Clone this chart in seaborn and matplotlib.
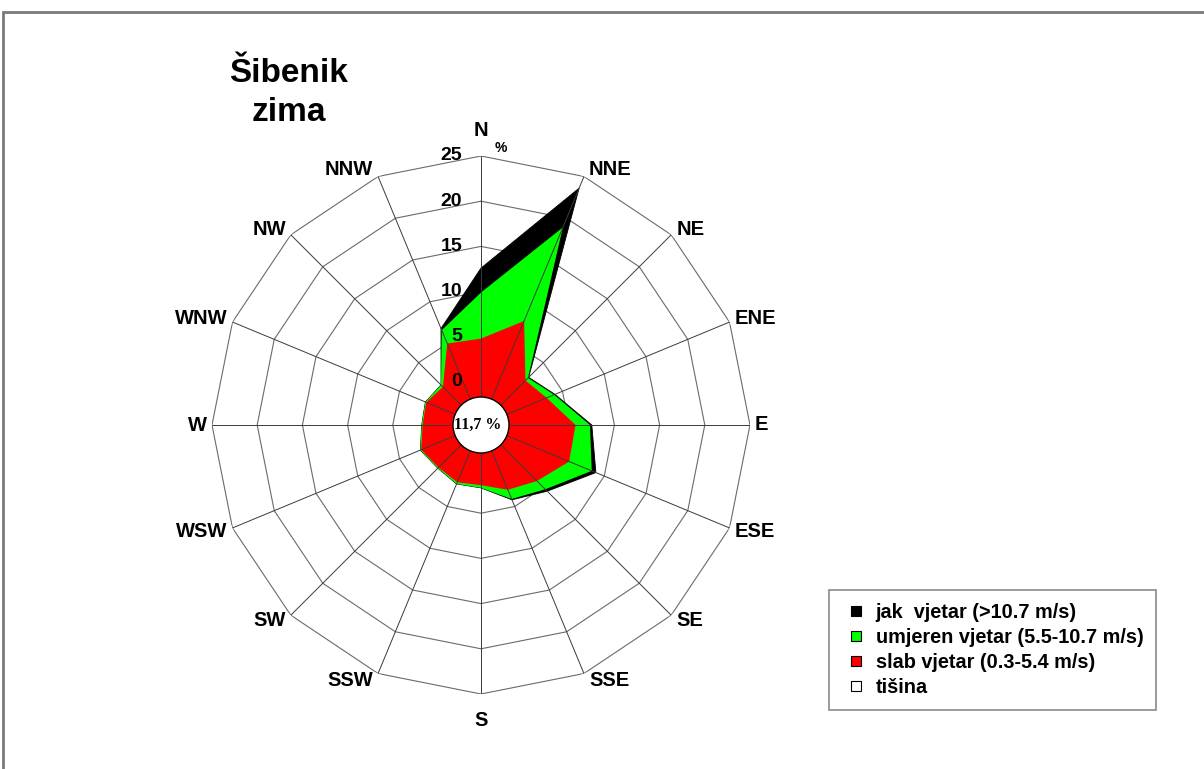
import numpy as np
import matplotlib
matplotlib.use("Agg")
import matplotlib.pyplot as plt
from matplotlib.lines import Line2D
from matplotlib.patches import Circle, Rectangle
import seaborn as sns

sns.set_theme(style="white")
plt.rcParams['font.family'] = ['Liberation Sans', 'DejaVu Sans']
plt.rcParams['text.color'] = 'black'

# Wind rose data, Šibenik, winter (% of observations)
directions = ["N", "NNE", "NE", "ENE", "E", "ESE", "SE", "SSE",
              "S", "SSW", "SW", "WSW", "W", "WNW", "NW", "NNW"]
slab = [4.8, 7.7, 2.2, 3.1, 5.7, 5.8, 4.0, 3.0, 1.9, 2.1, 1.9, 2.4, 1.7, 1.8, 1.2, 5.0]
umjeren = [5.1, 11.2, 0.4, 0.9, 1.6, 2.7, 1.3, 1.1, 0.3, 0.2, 0.1, 0.1, 0.1, 0.1, 0.3, 1.6]
jak = [2.7, 4.7, 0.1, 0.1, 0.2, 0.5, 0.3, 0.1, 0.0, 0.0, 0.0, 0.0, 0.0, 0.0, 0.0, 0.2]
tisina = 11.7
ring_values = [0, 5, 10, 15, 20, 25]
legend_labels = ["jak  vjetar (>10.7 m/s)", "umjeren vjetar (5.5-10.7 m/s)",
                 "slab vjetar (0.3-5.4 m/s)", "tišina"]

# layout
W, H = 1204, 769
CX, CY = 481, 425          # rose centre, px from top-left
R_OUT = 269                # px radius of 25 % ring
R_ZERO = 43                # px radius of 0 % ring
R_CALM = 28                # px radius of calm circle
RMAX = 25
RMIN = -RMAX * R_ZERO / (R_OUT - R_ZERO)

fig = plt.figure(figsize=(W / 100, H / 100), dpi=100)
ax = fig.add_axes([(CX - R_OUT) / W, (H - CY - R_OUT) / H, 2 * R_OUT / W, 2 * R_OUT / H],
                  projection='polar')
ax.set_theta_zero_location('N')
ax.set_theta_direction(-1)
ax.set_ylim(RMIN, RMAX)
ax.grid(False)
ax.set_xticks([])
ax.set_yticks([])
ax.spines['polar'].set_visible(False)
ax.patch.set_alpha(0)

theta = np.deg2rad(np.arange(len(directions)) * 22.5)
theta_c = np.append(theta, theta[0])

def closed(a):
    a = np.asarray(a, dtype=float)
    return np.append(a, a[0])

# polygon rings
for v in ring_values:
    ax.plot(theta_c, np.full(len(theta_c), v), color='#6a6a6a', lw=0.8, zorder=1)

# stacked areas
c_slab = np.array(slab)
c_umj = c_slab + np.array(umjeren)
c_jak = c_umj + np.array(jak)
ax.fill(theta_c, closed(c_jak), color='black', lw=0.6, zorder=2)
ax.fill(theta_c, closed(c_umj), color='#00ff00', lw=0, zorder=3)
ax.fill(theta_c, closed(c_slab), color='#ff0000', lw=0, zorder=4)

# spokes
for t in theta:
    ax.plot([t, t], [RMIN, RMAX], color='#3a3a3a', lw=0.7, zorder=5)

# calm circle
ax.add_patch(Circle((0.5, 0.5), R_CALM / (2 * R_OUT), transform=ax.transAxes,
                    facecolor='white', edgecolor='black', lw=1.0, zorder=6))
ax.text(0.5 - 3 / (2 * R_OUT), 0.5, f"{tisina:.1f} %".replace('.', ','), transform=ax.transAxes,
        ha='center', va='center', fontsize=11.5, fontweight='bold',
        family=['Liberation Serif', 'DejaVu Serif'], zorder=7)

# direction labels, placed beside the outer ring vertices
for t, d in zip(theta, directions):
    s, c = np.sin(t), np.cos(t)
    if abs(s) < 1e-6:
        ha, off = 'center', (0, 26 * np.sign(c))
    else:
        ha = 'left' if s > 0 else 'right'
        off = (5 * np.sign(s), 8 * c)
    ax.annotate(d, xy=(t, RMAX), xytext=off, textcoords='offset pixels',
                ha=ha, va='center', fontsize=14.5, fontweight='bold')

# radial scale labels
for v in ring_values:
    ax.annotate(str(v), xy=(0, v), xytext=(-19, 0), textcoords='offset pixels',
                ha='right', va='center', fontsize=14, fontweight='bold', zorder=8)
ax.annotate('%', xy=(0, RMAX), xytext=(20, 8), textcoords='offset pixels',
            ha='center', va='center', fontsize=10, fontweight='bold')

# title
fig.text(289 / W, 1 - 82 / H, "Šibenik", ha='center', va='baseline', fontsize=24, fontweight='bold')
fig.text(289 / W, 1 - 121 / H, "zima", ha='center', va='baseline', fontsize=24, fontweight='bold')

# legend
handles = [Line2D([], [], marker='s', ls='none', markersize=6.8, markerfacecolor=c,
                  markeredgecolor='black', markeredgewidth=0.8)
           for c in ['black', '#00ff00', '#ff0000', 'white']]
leg = fig.legend(handles, legend_labels, loc='upper left', bbox_to_anchor=(829 / W, 1 - 590 / H),
                 frameon=True, fancybox=False, edgecolor='#8a8a8a', framealpha=1,
                 borderaxespad=0, borderpad=0.65, handlelength=1.4, handletextpad=0.3,
                 labelspacing=0.3, prop={'size': 14.3, 'weight': 'bold'})
leg.get_frame().set_linewidth(1.2)

# page frame
fig.add_artist(Rectangle((3 / W, -0.1), 1.2, (H - 12) / H + 0.1, transform=fig.transFigure,
                         fill=False, edgecolor='#7a7a7a', lw=2))

fig.savefig("out.png", dpi=100)
